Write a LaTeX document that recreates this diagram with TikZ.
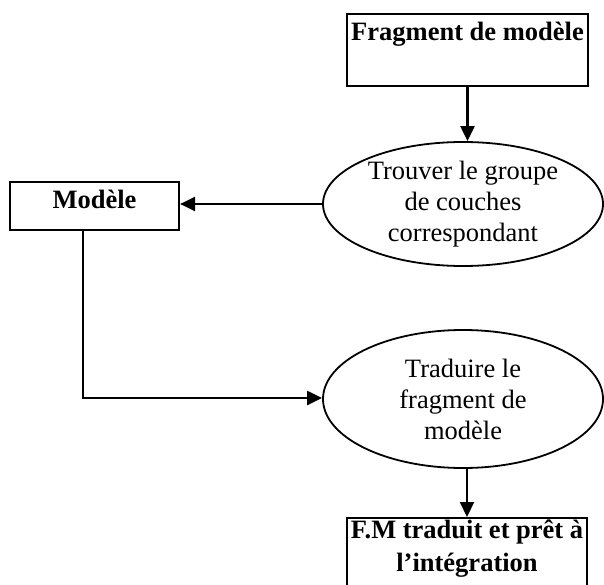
\documentclass[tikz,border=0pt]{standalone}
\usepackage{fontspec}
\setmainfont{Liberation Serif}
\usetikzlibrary{shapes.geometric,arrows.meta}
\begin{document}
\begin{tikzpicture}[x=1pt,y=-1pt,
  boxnode/.style={draw, line width=2.2pt, inner sep=0pt, align=center,
    font=\fontsize{26.5}{33}\selectfont\bfseries},
  ellnode/.style={draw, ellipse, line width=1.8pt, inner sep=0pt, align=center,
    minimum width=280pt, font=\fontsize{26.5}{31}\selectfont},
  arr/.style={line width=2.2pt, -{Triangle[length=15pt,width=14pt]}}]
\useasboundingbox (0,0) rectangle (604,585);
\node[boxnode, minimum width=241pt, text height=26pt, text depth=46pt, anchor=north] (top) at (467.5,13) {Fragment de modèle};
\node[ellnode, minimum height=124pt] (e1) at (463,204) {Trouver le groupe\\de couches\\correspondant};
\node[boxnode, minimum width=169pt, text height=26pt, text depth=22pt, anchor=north] (m) at (94.5,181) {Modèle};
\node[ellnode, minimum height=138pt] (e2) at (463,399) {Traduire le\\fragment de\\modèle};
\node[boxnode, minimum width=240pt, text height=53pt, text depth=25pt, anchor=north] (bot) at (467,517) {F.M traduit et prêt à\\l’intégration};
\coordinate (c) at (83,398);
\draw[arr] (top.south) -- (e1.north -| top.south);
\draw[arr] (e1.west) -- (e1.west -| m.east);
\draw[arr] (m.south -| c) -- (c) -- (c -| e2.west);
\draw[arr] (e2.south -| bot.north) -- (bot.north);
\end{tikzpicture}
\end{document}
